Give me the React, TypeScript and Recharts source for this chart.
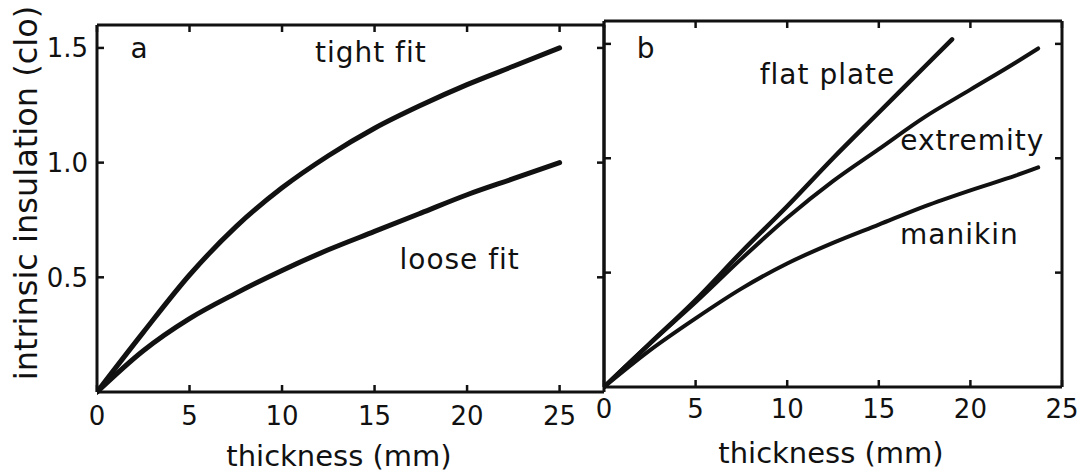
import { LineChart, Line, XAxis, YAxis, ReferenceDot } from 'recharts';

const FONT = '"DejaVu Sans", sans-serif';
const INK = '#111';

const thicknessTicks = [0, 5, 10, 15, 20, 25];
const insulationTicks = [0.5, 1.0, 1.5];

// panel a: garment fit
const fitMm = [0, 2.5, 5, 7.5, 10, 12.5, 15, 17.5, 20, 22.5, 25];
const tightFitClo = [0, 0.26, 0.51, 0.72, 0.89, 1.03, 1.15, 1.25, 1.34, 1.42, 1.5];
const looseFitClo = [0, 0.18, 0.32, 0.43, 0.53, 0.62, 0.7, 0.78, 0.86, 0.93, 1.0];

// panel b: measuring method
const flatPlateMm = [0, 2.5, 5, 7.5, 10, 12.5, 15, 17.5, 19];
const flatPlateClo = [0, 0.19, 0.38, 0.59, 0.79, 1.0, 1.2, 1.4, 1.52];
const bodyMm = [0, 2.5, 5, 7.5, 10, 12.5, 15, 17.5, 20, 22.5, 23.7];
const extremityClo = [0, 0.19, 0.37, 0.56, 0.74, 0.9, 1.04, 1.18, 1.3, 1.42, 1.48];
const manikinClo = [0, 0.16, 0.3, 0.43, 0.54, 0.63, 0.71, 0.79, 0.86, 0.925, 0.96];

const zip = (xs: number[], ys: number[]) => xs.map((x, i) => ({ x, y: ys[i] }));

const Y_DOMAIN: [number, number] = [0, 1.6];
const TICK_LEN = 7; // ticks point into the plot box on every side
const axisLine = { stroke: INK, strokeWidth: 3 };
const textStyle = { fill: INK, fontFamily: FONT };
const tickStroke = { stroke: INK, strokeWidth: 2.5 };

// axes get tickSize 0 / tickMargin 0, so x,y arrive on the axis line
function bottomTick(labelGap: number) {
  return (props: any) => {
    const { x, y, payload } = props;
    return (
      <g>
        <line x1={x} y1={y} x2={x} y2={y - TICK_LEN} {...tickStroke} />
        <text x={x} y={y + labelGap} textAnchor="middle" fontSize={26} {...textStyle}>
          {payload.value}
        </text>
      </g>
    );
  };
}

function topTick(props: any) {
  const { x, y } = props;
  return <line x1={x} y1={y} x2={x} y2={y + TICK_LEN} {...tickStroke} />;
}

// the right-hand ticks are drawn here too, mirrored onto the plot's right edge
function leftTick(labelled: boolean, plotRight: number) {
  return (props: any) => {
    const { x, y, payload } = props;
    return (
      <g>
        <line x1={x} y1={y} x2={x + TICK_LEN} y2={y} {...tickStroke} />
        <line x1={plotRight} y1={y} x2={plotRight - TICK_LEN} y2={y} {...tickStroke} />
        {labelled && (
          <text x={x - 9} y={y + 9.5} textAnchor="end" fontSize={26} {...textStyle}>
            {Number(payload.value).toFixed(1)}
          </text>
        )}
      </g>
    );
  };
}

function curveLabel(value: string) {
  return { value, position: 'center' as const, fontSize: 28, fill: INK, fontFamily: FONT, letterSpacing: 1 };
}

type Series = { name: string; points: { x: number; y: number }[]; width: number };
type Note = { text: string; x: number; y: number };

type PanelProps = {
  width: number;
  height: number;
  margin: { top: number; right: number; bottom: number; left: number };
  xMax: number;
  leftWidth: number;
  bottomHeight: number;
  xLabelGap: number;
  showYLabels: boolean;
  series: Series[];
  notes: Note[];
};

function Panel(p: PanelProps) {
  const xDomain: [number, number] = [0, p.xMax];
  const plotRight = p.width - p.margin.right - 1;
  return (
    <LineChart width={p.width} height={p.height} margin={p.margin}>
      <XAxis
        xAxisId={0}
        type="number"
        dataKey="x"
        domain={xDomain}
        allowDataOverflow
        ticks={thicknessTicks}
        interval={0}
        height={p.bottomHeight}
        axisLine={axisLine}
        tickLine={false}
        tickSize={0}
        tickMargin={0}
        tick={bottomTick(p.xLabelGap)}
      />
      <XAxis
        xAxisId="top"
        orientation="top"
        type="number"
        dataKey="x"
        domain={xDomain}
        allowDataOverflow
        ticks={thicknessTicks}
        interval={0}
        height={1}
        axisLine={axisLine}
        tickLine={false}
        tickSize={0}
        tickMargin={0}
        tick={topTick}
      />
      <YAxis
        yAxisId={0}
        type="number"
        domain={Y_DOMAIN}
        ticks={insulationTicks}
        interval={0}
        width={p.leftWidth}
        axisLine={axisLine}
        tickLine={false}
        tickSize={0}
        tickMargin={0}
        tick={leftTick(p.showYLabels, plotRight)}
      />
      <YAxis
        yAxisId="right"
        orientation="right"
        type="number"
        domain={Y_DOMAIN}
        ticks={insulationTicks}
        width={1}
        axisLine={axisLine}
        tickLine={false}
        tick={false}
      />
      {p.series.map((s) => (
        <Line
          key={s.name}
          data={s.points}
          dataKey="y"
          name={s.name}
          type="monotone"
          stroke={INK}
          strokeWidth={s.width}
          strokeLinecap="round"
          dot={false}
          isAnimationActive={false}
        />
      ))}
      {p.notes.map((n) => (
        <ReferenceDot key={n.text} x={n.x} y={n.y} r={0} stroke="none" fill="none" label={curveLabel(n.text)} />
      ))}
    </LineChart>
  );
}

export default function App() {
  return (
    <div style={{ position: 'absolute', left: 0, top: 0, width: 1083, height: 473, background: '#fff' }}>
      <div style={{ position: 'absolute', left: 0, top: 0 }}>
        <Panel
          width={620}
          height={473}
          margin={{ top: 24, right: 15, bottom: 0, left: 0 }}
          xMax={27.4}
          leftWidth={97}
          bottomHeight={81}
          xLabelGap={33}
          showYLabels
          series={[
            { name: 'tight fit', points: zip(fitMm, tightFitClo), width: 5 },
            { name: 'loose fit', points: zip(fitMm, looseFitClo), width: 5 },
          ]}
          notes={[
            { text: 'a', x: 2.3, y: 1.5 },
            { text: 'tight fit', x: 14.8, y: 1.48 },
            { text: 'loose fit', x: 19.6, y: 0.58 },
          ]}
        />
      </div>
      <div style={{ position: 'absolute', left: 540, top: 0 }}>
        <Panel
          width={543}
          height={473}
          margin={{ top: 20, right: 20, bottom: 0, left: 0 }}
          xMax={25}
          leftWidth={64}
          bottomHeight={86}
          xLabelGap={31}
          showYLabels={false}
          series={[
            { name: 'flat plate', points: zip(flatPlateMm, flatPlateClo), width: 4.5 },
            { name: 'extremity', points: zip(bodyMm, extremityClo), width: 4 },
            { name: 'manikin', points: zip(bodyMm, manikinClo), width: 4 },
          ]}
          notes={[
            { text: 'b', x: 2.3, y: 1.48 },
            { text: 'flat plate', x: 12.2, y: 1.37 },
            { text: 'extremity', x: 20.1, y: 1.08 },
            { text: 'manikin', x: 19.4, y: 0.67 },
          ]}
        />
      </div>
      <svg width={1083} height={473} style={{ position: 'absolute', left: 0, top: 0, pointerEvents: 'none' }}>
        <text x={37} y={193} transform="rotate(-90 37 193)" textAnchor="middle" fontSize={32} {...textStyle}>
          intrinsic insulation (clo)
        </text>
        <text x={339} y={466} textAnchor="middle" fontSize={29} {...textStyle}>
          thickness (mm)
        </text>
        <text x={831} y={463} textAnchor="middle" fontSize={29} {...textStyle}>
          thickness (mm)
        </text>
      </svg>
    </div>
  );
}
